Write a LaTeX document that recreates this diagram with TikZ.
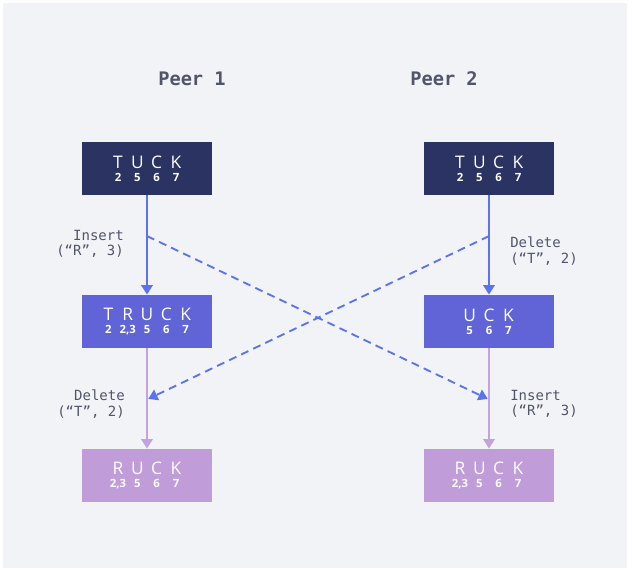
\documentclass[tikz,border=0pt]{standalone}
\usepackage{fontspec}
\setmainfont{Open Sans}
\newfontfamily\peermono{DejaVu Sans Mono}
\usetikzlibrary{arrows.meta,calc}
\definecolor{bgpanel}{HTML}{F2F3F7}
\definecolor{navy}{HTML}{2A3361}
\definecolor{indigo}{HTML}{6064D6}
\definecolor{lilac}{HTML}{C09CD8}
\definecolor{opblue}{HTML}{5B74EE}
\definecolor{oplilac}{HTML}{C4A2DC}
\definecolor{inkgray}{HTML}{50556A}
\newcommand{\lt}[1]{\makebox[14.5pt]{#1}}
\newcommand{\pos}[1]{{\fontsize{8.5}{10}\selectfont\bfseries #1}}

\tikzset{
  docbox/.style={minimum width=98pt, minimum height=40pt, inner sep=0pt,
    align=center, text=white, font=\fontsize{13}{10}\selectfont},
  opline/.style={opblue, line width=1.4pt, -{Triangle[width=8.5pt,length=7pt]}},
  opdash/.style={opline, dash pattern=on 6pt off 4pt},
  oplabel/.style={font=\peermono\fontsize{10.5}{11.5}\selectfont, text=inkgray, inner sep=0pt},
  peer/.style={font=\peermono\bfseries\fontsize{14}{16}\selectfont, text=inkgray}
}

\begin{document}
\begin{tikzpicture}[x=0.75pt,y=-0.75pt]
  \def\xa{147} \def\xb{489}
  \useasboundingbox (0,0) rectangle (628,571);
  \fill[bgpanel] (3,3) rectangle (627,568);

  % peers
  \node[peer] (p1) at (192,79) {Peer 1};
  \node[peer] (p2) at (444,79) {Peer 2};

  % states of the document
  \node[docbox, fill=navy]   (t1) at (\xa,168.5) {\lt{T}\lt{U}\lt{C}\lt{K}\\ \pos{\lt{2}\lt{5}\lt{6}\lt{7}}};
  \node[docbox, fill=navy]   (t2) at (\xb,168.5) {\lt{T}\lt{U}\lt{C}\lt{K}\\ \pos{\lt{2}\lt{5}\lt{6}\lt{7}}};
  \node[docbox, fill=indigo] (m1) at (\xa,321.5) {\lt{T}\lt{R}\lt{U}\lt{C}\lt{K}\\ \pos{\lt{2}\lt{2,3}\lt{5}\lt{6}\lt{7}}};
  \node[docbox, fill=indigo] (m2) at (\xb,321.5) {\lt{U}\lt{C}\lt{K}\\ \pos{\lt{5}\lt{6}\lt{7}}};
  \node[docbox, fill=lilac]  (b1) at (\xa,475.5) {\lt{R}\lt{U}\lt{C}\lt{K}\\ \pos{\lt{2,3}\lt{5}\lt{6}\lt{7}}};
  \node[docbox, fill=lilac]  (b2) at (\xb,475.5) {\lt{R}\lt{U}\lt{C}\lt{K}\\ \pos{\lt{2,3}\lt{5}\lt{6}\lt{7}}};

  % local operations
  \draw[opline] (t1) -- (m1);
  \draw[opline] (t2) -- (m2);
  \draw[opline, oplilac] (m1) -- (b1);
  \draw[opline, oplilac] (m2) -- (b2);

  % remote operations
  \coordinate (s1) at ($(t1.south)!0.41!(m1.north)$);
  \coordinate (s2) at ($(t2.south)!0.41!(m2.north)$);
  \coordinate (e1) at ($(m1.south)!0.51!(b1.north)$);
  \coordinate (e2) at ($(m2.south)!0.51!(b2.north)$);
  \draw[opdash, shorten >=1pt] (s1) -- (e2);
  \draw[opdash, shorten >=1pt] (s2) -- (e1);

  \node[oplabel, anchor=east, align=right] (l1) at (124,244) {Insert\\(“R”, 3)};
  \node[oplabel, anchor=west, align=left]  (l2) at (510,251) {Delete\\(“T”, 2)};
  \node[oplabel, anchor=east, align=right] (l3) at (125,404) {Delete\\(“T”, 2)};
  \node[oplabel, anchor=west, align=left]  (l4) at (510,404) {Insert\\(“R”, 3)};
\end{tikzpicture}
\end{document}
